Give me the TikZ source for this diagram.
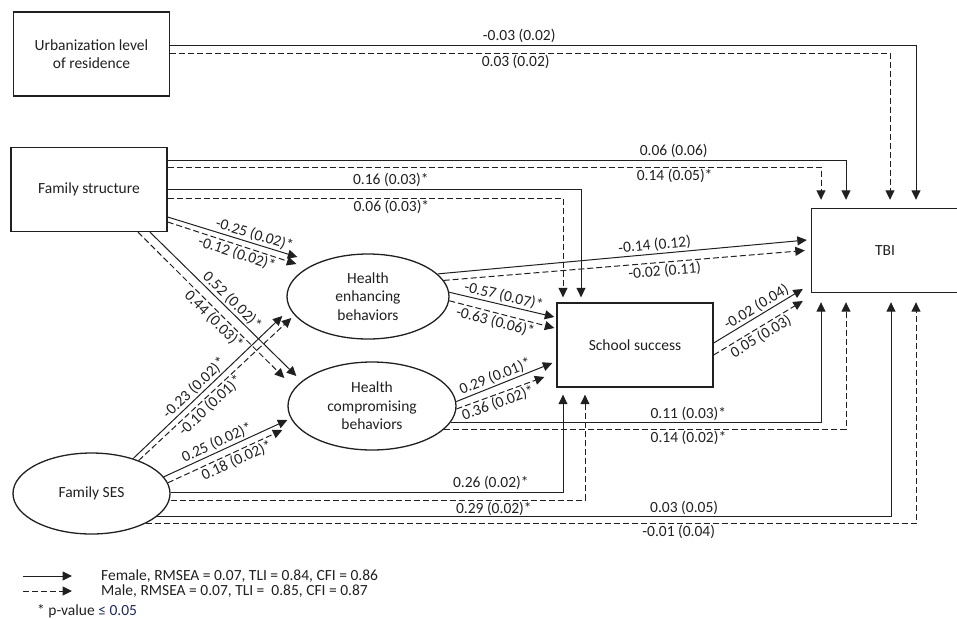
\documentclass[tikz,border=0pt]{standalone}
\usepackage{fontspec}
\setmainfont{Carlito}
\usepackage{tikz}
\usetikzlibrary{arrows.meta, shapes.geometric}
\definecolor{ink}{HTML}{202020}
\definecolor{navy}{HTML}{1F2A5C}

\begin{document}
\begin{tikzpicture}[
    x=1pt, y=-1pt,
    every node/.style={font=\fontsize{15.5}{18.5}\selectfont, text=ink},
    box/.style={rectangle, draw=ink, line width=1.3pt, minimum width=156pt,
                minimum height=84pt, align=center},
    oval/.style={ellipse, draw=ink, line width=1.3pt, minimum width=162pt,
                 minimum height=85pt, align=center, inner sep=0pt},
    female/.style={draw=ink, line width=1pt,
                   -{Triangle[length=9.5pt, width=9pt]}},
    male/.style={female, dash pattern=on 6pt off 3pt},
    lab/.style={inner sep=1.5pt},
  ]
  \useasboundingbox (0,0) rectangle (957,619);
  \clip (0,0) rectangle (957,619);

  % variables
  \node[box] (urb) at (91.5,54) {Urbanization level\\of residence};
  \node[box] (fam) at (89,189.5) {Family structure};
  \node[rectangle, minimum width=146pt, minimum height=83pt] (tbi) at (885,250.5) {TBI};
  \draw[ink, line width=1.3pt] ([xshift=20pt]tbi.north east) -- (tbi.north west)
    -- (tbi.south west) -- ([xshift=20pt]tbi.south east);
  \node[box] (school) at (635,345) {School success};
  \node[oval] (he) at (368,296.5) {Health\\enhancing\\behaviors};
  \node[oval, minimum width=168pt, minimum height=88pt] (hc) at (372,406)
    {Health\\compromising\\behaviors};
  \node[oval, minimum width=157pt, minimum height=81pt] (ses) at (91.5,493.5)
    {Family SES};

  % urbanization
  \draw[female, shorten >=9pt] ([yshift=9pt]urb.east)
    -| node[lab, above, pos=.234] {-0.03 (0.02)} ([xshift=31pt]tbi.north);
  \draw[male, shorten >=9pt] ([yshift=1pt]urb.east)
    -| node[lab, below, pos=.24] {0.03 (0.02)} ([xshift=5pt]tbi.north);

  % family structure
  \draw[female, shorten >=9pt] ([yshift=29.5pt]fam.east)
    -| node[lab, above, pos=.373] {0.06 (0.06)} ([xshift=-39pt]tbi.north);
  \draw[male, shorten >=9pt] ([yshift=22.5pt]fam.east)
    -| node[lab, below, pos=.388] {0.14 (0.05)*} ([xshift=-64pt]tbi.north);
  \draw[female, shorten >=5pt] ([yshift=0.5pt]fam.east)
    -| node[lab, above, pos=.27] {0.16 (0.03)*} ([xshift=-54pt]school.north);
  \draw[male, shorten >=5pt] ([yshift=-8.5pt]fam.east)
    -| node[lab, below, pos=.283] {0.06 (0.03)*} ([xshift=-72pt]school.north);
  \draw[female] ([yshift=-27.5pt]fam.east)
    -- node[lab, sloped, above, pos=.65] {-0.25 (0.02)*} ([xshift=11pt, yshift=39.5pt]he.west);
  \draw[male] ([yshift=-32.5pt]fam.east)
    -- node[lab, sloped, below, pos=.56] {-0.12 (0.02)*} ([xshift=10pt, yshift=32.5pt]he.west);
  \draw[female] ([xshift=61pt]fam.south)
    -- node[lab, sloped, above, pos=.52] {0.52 (0.02)*} ([xshift=9pt, yshift=30pt]hc.west);
  \draw[male] ([xshift=49pt]fam.south)
    -- node[lab, sloped, below, pos=.56] {0.44 (0.03)*} ([xshift=-3pt, yshift=28pt]hc.west);

  % family SES
  \draw[female] (ses.40)
    -- node[lab, sloped, above, pos=.45] {-0.23 (0.02)*} ([xshift=-4pt, yshift=-19.5pt]he.west);
  \draw[male] (ses.35)
    -- node[lab, sloped, below, pos=.43] {-0.10 (0.01)*} ([xshift=5pt, yshift=-21.5pt]he.west);
  \draw[female] (ses.13)
    -- node[lab, sloped, above, pos=.46] {0.25 (0.02)*} ([yshift=-14pt]hc.west);
  \draw[male] (ses.8)
    -- node[lab, sloped, below, pos=.57] {0.18 (0.02)*} ([xshift=-5pt, yshift=-24pt]hc.west);
  \draw[female, shorten >=7pt] ([yshift=1.5pt]ses.east)
    -| node[lab, above, pos=.408] {0.26 (0.02)*} ([xshift=-72pt]school.south);
  \draw[male, shorten >=7pt] ([yshift=-6.5pt]ses.east)
    -| node[lab, below, pos=.39] {0.29 (0.02)*} ([xshift=-50pt]school.south);
  \draw[female, shorten >=10pt] (ses.-19)
    -| node[lab, above, pos=.359] {0.03 (0.05)} ([xshift=6pt]tbi.south);
  \draw[male, shorten >=10pt] (ses.-29)
    -| node[lab, below, pos=.346] {-0.01 (0.04)} ([xshift=31pt]tbi.south);

  % health behaviors
  \draw[female] (he.18)
    -- node[lab, sloped, above, pos=.59] {-0.14 (0.12)} ([xshift=-5pt, yshift=10.5pt]tbi.west);
  \draw[male] (he.12)
    -- node[lab, sloped, below, pos=.61] {-0.02 (0.11)} ([xshift=-7pt]tbi.west);
  \draw[female] (he.3)
    -- node[lab, sloped, above, pos=.5] {-0.57 (0.07)*} ([xshift=-2pt, yshift=28pt]school.west);
  \draw[male] (he.-3)
    -- node[lab, sloped, below, pos=.46] {-0.63 (0.06)*} ([xshift=-2pt, yshift=17pt]school.west);
  \draw[female] (hc.3)
    -- node[lab, sloped, above, pos=.44] {0.29 (0.01)*} ([xshift=-4pt, yshift=-18pt]school.west);
  \draw[male] (hc.-2)
    -- node[lab, sloped, below, pos=.44] {0.36 (0.02)*} ([xshift=-12pt, yshift=-32pt]school.west);
  \draw[female, shorten >=10pt] (hc.-12)
    -| node[lab, above, pos=.321] {0.11 (0.03)*} ([xshift=-64pt]tbi.south);
  \draw[male, shorten >=10pt] (hc.-18)
    -| node[lab, below, pos=.304] {0.14 (0.02)*} ([xshift=-39pt]tbi.south);

  % school success
  \draw[female] ([yshift=2pt]school.east)
    -- node[lab, sloped, above, pos=.53] {-0.02 (0.04)} ([xshift=-9pt, yshift=-38.5pt]tbi.west);
  \draw[male] ([yshift=-10pt]school.east)
    -- node[lab, sloped, below, pos=.48] {0.05 (0.03)} ([xshift=-9pt, yshift=-50.5pt]tbi.west);

  % legend
  \coordinate (fem0) at (23,576);
  \coordinate (fem1) at (72,576);
  \coordinate (mal0) at (23,591);
  \coordinate (mal1) at (72,591);
  \draw[female] (fem0) -- (fem1);
  \draw[male] (mal0) -- (mal1);
  \node[anchor=west, inner sep=0pt] (femtxt) at (101,576)
    {Female, RMSEA = 0.07, TLI = 0.84, CFI = 0.86};
  \node[anchor=west, inner sep=0pt] (maltxt) at (101,591)
    {Male, RMSEA = 0.07, TLI = \ 0.85, CFI = 0.87};
  \node[anchor=west, inner sep=0pt] (pval) at (37,611)
    {* p-value \textcolor{navy}{≤ 0.05}};
\end{tikzpicture}
\end{document}
